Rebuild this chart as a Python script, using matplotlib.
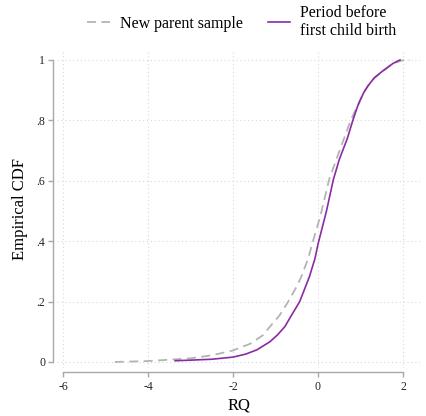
import numpy as np
import matplotlib
matplotlib.use('Agg')
import matplotlib.pyplot as plt

plt.rcParams['font.family'] = ['Liberation Serif', 'DejaVu Serif']
plt.rcParams['axes.unicode_minus'] = False

# empirical CDF
rq_padres = [-4.78, -4.0, -3.0, -2.5, -2.0, -1.6, -1.3, -1.13, -0.9, -0.70, -0.5, -0.39,
             -0.23, -0.11, 0.05, 0.26, 0.43, 0.6, 0.77, 0.9, 0.99, 1.08, 1.18, 1.32,
             1.5, 1.77, 2.0, 2.16]
cdf_padres = [0.0, 0.003, 0.012, 0.022, 0.038, 0.06, 0.088, 0.117, 0.155, 0.2, 0.25, 0.283,
              0.343, 0.404, 0.48, 0.603, 0.67, 0.735, 0.8, 0.84, 0.866, 0.893, 0.915, 0.94,
              0.961, 0.989, 0.999, 1.0]

rq_antes = [-3.36, -3.0, -2.5, -2.0, -1.7, -1.44, -1.13, -0.95, -0.78, -0.6, -0.43, -0.2,
            -0.07, 0.0, 0.2, 0.36, 0.5, 0.69, 0.82, 0.92, 0.99, 1.08, 1.18, 1.32,
            1.5, 1.77, 1.93]
cdf_antes = [0.004, 0.006, 0.009, 0.016, 0.026, 0.04, 0.067, 0.09, 0.117, 0.16, 0.2, 0.283,
             0.343, 0.39, 0.5, 0.603, 0.67, 0.74, 0.8, 0.842, 0.866, 0.893, 0.915, 0.94,
             0.961, 0.989, 1.0]

xticks = [-6, -4, -2, 0, 2]
yticks = [0, 0.2, 0.4, 0.6, 0.8, 1]
ylabels = ['0', '.2', '.4', '.6', '.8', '1']

cinza = '#b4b4b4'
roxo = '#8a2ba2'
eixo = '#a8a8a8'

fig = plt.figure(figsize=(4.26, 4.16), dpi=100)
ax = fig.add_axes([57/426, 1 - 368/416, 363/426, 318/416])

ax.plot(rq_padres, cdf_padres, color=cinza, lw=1.3, dashes=(5, 3), label='New parent sample',
        solid_joinstyle='round', dash_joinstyle='round')
ax.plot(rq_antes, cdf_antes, color=roxo, lw=1.2, label='Period before\nfirst child birth',
        solid_joinstyle='round')

ax.set_xlim(-6.14, 2.4)
ax.set_ylim(-0.02, 1.033)
ax.set_xticks(xticks)
ax.set_xticklabels([str(t) for t in xticks])
ax.set_yticks(yticks)
ax.set_yticklabels(ylabels)

ax.grid(True, color='#d8d8d8', linestyle=(0, (1, 2.5)), linewidth=0.8)
ax.set_axisbelow(True)

for lado in ['top', 'right']:
    ax.spines[lado].set_visible(False)
ax.spines['left'].set_position(('outward', 3))
ax.spines['bottom'].set_position(('outward', 3))
ax.spines['left'].set_bounds(0, 1)
ax.spines['bottom'].set_bounds(-6, 2)
for lado in ['left', 'bottom']:
    ax.spines[lado].set_color(eixo)
    ax.spines[lado].set_linewidth(1.0)

ax.tick_params(axis='both', direction='out', length=3.5, width=1.0, color=eixo,
               labelsize=8.5, labelcolor='#222222')
ax.tick_params(axis='y', pad=2)
ax.tick_params(axis='x', pad=3)

ax.set_xlabel('RQ', fontsize=12, labelpad=3)
ax.set_ylabel('Empirical CDF', fontsize=12, labelpad=6)

fig.legend(loc='center', bbox_to_anchor=(242/426, 1 - 22/416), ncol=2, frameon=False,
           fontsize=11.5, handlelength=1.4, handletextpad=0.65, columnspacing=1.55)

fig.savefig('out.png', dpi=100)
